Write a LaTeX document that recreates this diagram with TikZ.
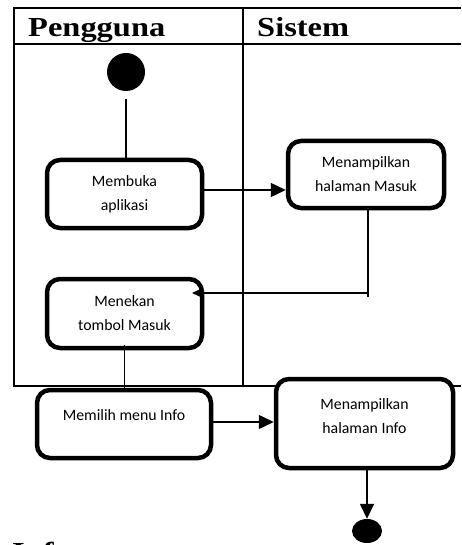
\documentclass[tikz,border=0pt]{standalone}
\usepackage{fontspec}
\setmainfont{Liberation Serif}
\newfontfamily\boxfont{Carlito}
\usetikzlibrary{arrows.meta,shapes.geometric}

\begin{document}
\begin{tikzpicture}[x=1pt,y=-1pt,
  lane/.style={line width=2pt},
  act/.style={draw, line width=4.5pt, rounded corners=13pt, fill=white,
    inner sep=0pt, align=center,
    font=\boxfont\fontsize{15.8}{24}\selectfont},
  flow/.style={line width=1.5pt},
  arr/.style={flow, -{Triangle[length=15pt,width=14pt]}},
  tinyarr/.style={flow, -{Triangle[length=9pt,width=8pt]}},
  head/.style={font=\bfseries\fontsize{27.5}{30}\selectfont,
    anchor=base west, inner sep=0pt, xscale=1.18},
  dot/.style={fill, inner sep=0pt}
]
\useasboundingbox (0,0) rectangle (461,545);

% swimlane frame
\draw[lane] (461,8) -- (14,8) -- (14,386) -- (461,386);
\draw[lane] (14,44) -- (461,44);
\draw[lane] (243,8) -- (243,386);

% lane titles
\node[head] (hPengguna) at (28,37) {Pengguna};
\node[head] (hSistem) at (257,37) {Sistem};

% start and end
\node[dot, circle, minimum size=38pt] (start) at (126,72) {};
\node[dot, ellipse, minimum width=30pt, minimum height=24pt] (stop) at (367,531) {};

% activities
\node[act, minimum width=155pt, minimum height=68pt] (buka) at (124.5,194)
  {Membuka\\aplikasi};
\node[act, minimum width=156pt, minimum height=67pt] (masuk) at (366,174.5)
  {Menampilkan\\halaman Masuk};
\node[act, minimum width=155pt, minimum height=69pt] (tekan) at (124.5,313.5)
  {Menekan\\tombol Masuk};
\node[act, minimum width=174pt, minimum height=68pt,
  label={[name=tInfoMenu, yshift=9pt, inner sep=0pt,
    font=\boxfont\fontsize{15.8}{24}\selectfont]center:Memilih menu Info}]
  (menu) at (124,424) {};
\node[act, minimum width=177pt, minimum height=89pt,
  label={[name=tInfoPage, yshift=7pt, inner sep=0pt, align=center,
    font=\boxfont\fontsize{15.8}{24}\selectfont]center:{Menampilkan\\halaman Info}}]
  (info) at (364.5,423.5) {};

% flows
\draw[flow] ([yshift=-8pt]start.south) -- (start.south |- buka.north);
\draw[arr] (buka.east |- 0,190) -- (masuk.west |- 0,190);
\coordinate (bend) at (368,293);
\draw[flow] (masuk.south -| bend) -- ([yshift=-4pt]bend);
\draw[tinyarr] (bend) -- (192,293);
\draw[flow] ([yshift=5pt]tekan.south) -- (tekan.south |- menu.north);
\draw[arr] (menu.east |- 0,422) -- (info.west |- 0,422);
\draw[arr] (info.south -| stop) -- (stop.north);

% caption running off the lower page edge
\node[head, xscale=1] (cap) at (12,561) {Info};
\end{tikzpicture}
\end{document}
